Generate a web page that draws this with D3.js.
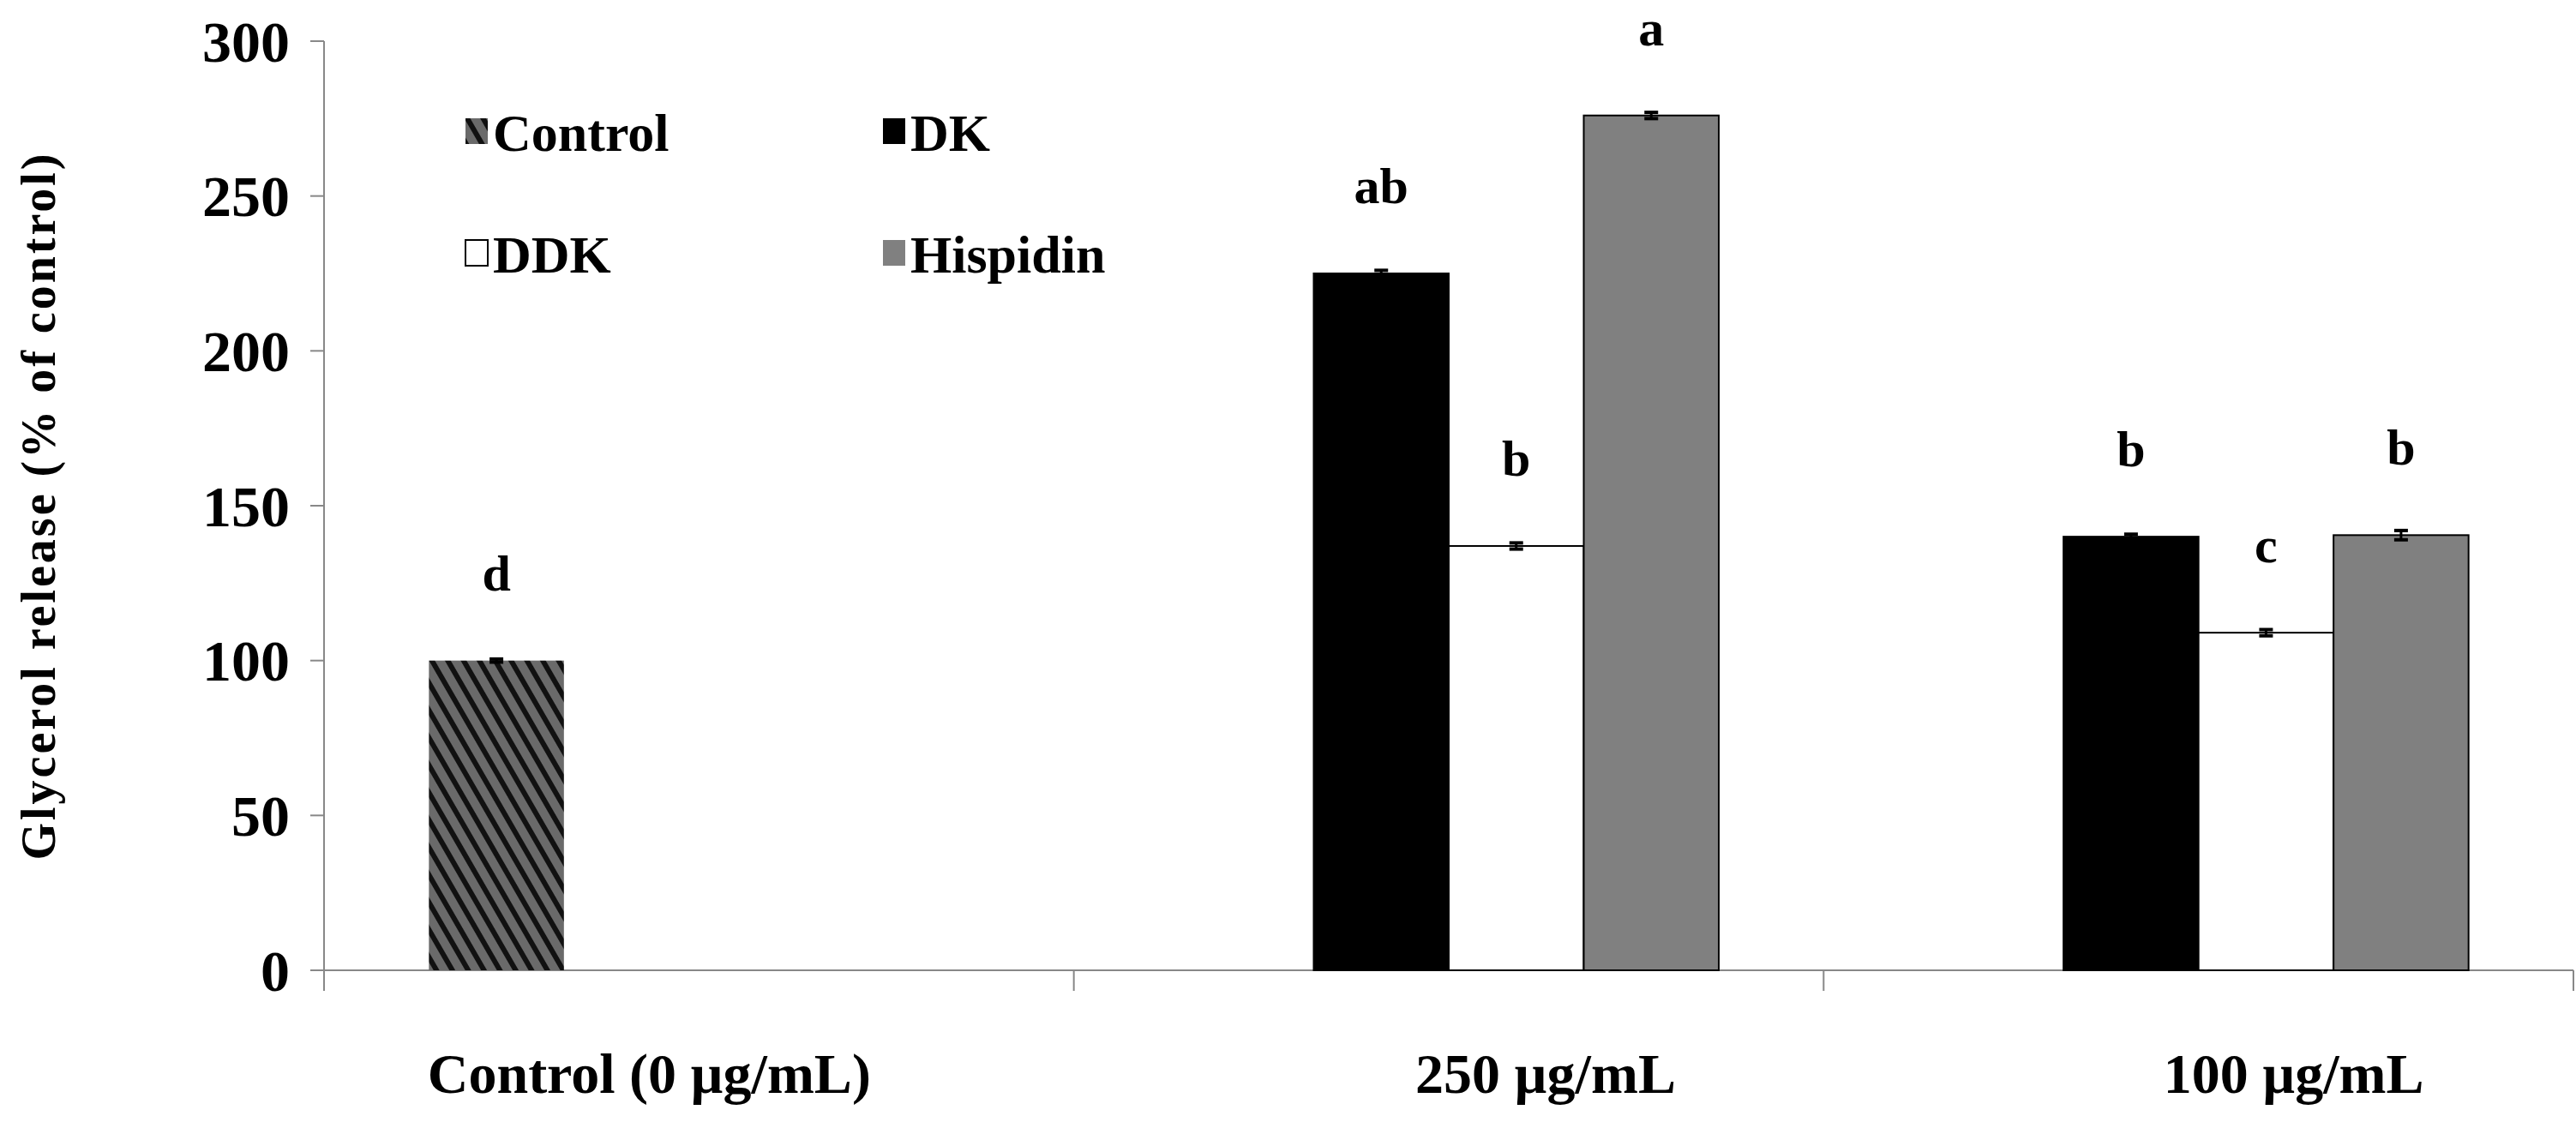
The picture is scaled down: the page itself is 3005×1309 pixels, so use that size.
<!DOCTYPE html>
<html><head><meta charset="utf-8">
<script src="https://cdn.jsdelivr.net/npm/d3@7"></script>
<style>body{margin:0;background:#fff}text{font-family:"Liberation Serif","Times New Roman",serif;font-weight:bold}</style>
</head><body><div id="chart"></div>
<script>
const categories = ["Control (0 \u00b5g/mL)", "250 \u00b5g/mL", "100 \u00b5g/mL"]
const seriesNames = ["Control", "DK", "DDK", "Hispidin"]
const control = [100, null, null]
const dk = [null, 225, 140]
const ddk = [null, 137, 109]
const hispidin = [null, 276, 140.5]
const errs = [[0.5, null, null], [null, 1, 0.8], [null, 1, 1], [null, 1, 1.5]]
const letters = [["d", null, null], [null, "ab", "b"], [null, "b", "c"], [null, "a", "b"]]
const yTicks = [0, 50, 100, 150, 200, 250, 300]

const values = [control, dk, ddk, hispidin]
const fills = ["url(#hatch)", "#000", "#fff", "#808080"]
const labelShift = [-58, 113, 111]

const W = 3005, H = 1309
const m = {left: 378, top: 48, right: 3, bottom: 177}
const groupW = 630
const svg = d3.select("#chart").append("svg").attr("width", W).attr("height", H)

const pat = svg.append("defs").append("pattern").attr("id", "hatch")
  .attr("patternUnits", "userSpaceOnUse").attr("width", 16).attr("height", 16)
  .attr("patternTransform", "rotate(-30)")
pat.append("rect").attr("width", 16).attr("height", 16).attr("fill", "#6a6a6a")
pat.append("rect").attr("width", 6).attr("height", 16).attr("fill", "#111")

const x = d3.scaleBand().domain(categories).range([m.left, W - m.right])
const xs = d3.scaleBand().domain(seriesNames).range([0, groupW]).paddingInner(0)
const y = d3.scaleLinear().domain([0, 300]).range([H - m.bottom, m.top])

// axes
svg.append("line").attr("x1", m.left).attr("x2", m.left).attr("y1", y(300)).attr("y2", y(0)).attr("stroke", "#888").attr("stroke-width", 2)
svg.append("line").attr("x1", m.left).attr("x2", W - m.right).attr("y1", y(0)).attr("y2", y(0)).attr("stroke", "#888").attr("stroke-width", 2)
yTicks.forEach(t => {
  svg.append("line").attr("x1", m.left - 16).attr("x2", m.left).attr("y1", y(t)).attr("y2", y(t)).attr("stroke", "#888").attr("stroke-width", 2)
  svg.append("text").attr("x", m.left - 40).attr("y", y(t)).attr("dy", "0.35em").attr("text-anchor", "end")
    .style("font-size", "68px").text(t)
})
const edges = categories.map(c => x(c)).concat([W - m.right])
edges.forEach(e => svg.append("line").attr("x1", e).attr("x2", e).attr("y1", y(0)).attr("y2", y(0) + 24).attr("stroke", "#888").attr("stroke-width", 2))
categories.forEach((c, i) => {
  svg.append("text").attr("x", x(c) + x.bandwidth() / 2 + labelShift[i]).attr("y", 1275)
    .attr("text-anchor", "middle").style("font-size", "66px").text(c)
})
svg.append("text").attr("transform", `translate(64,${(y(0) + y(300)) / 2}) rotate(-90)`)
  .attr("text-anchor", "middle").style("font-size", "56px").style("letter-spacing", "3px")
  .style("font-weight", "900").text("Glycerol release (% of control)")

// bars
seriesNames.forEach((s, si) => {
  categories.forEach((c, ci) => {
    const v = values[si][ci]
    if (v == null) return
    const bx = x(c) + x.bandwidth() / 2 - groupW / 2 + xs(s)
    svg.append("rect").attr("x", bx).attr("y", y(v)).attr("width", xs.bandwidth()).attr("height", y(0) - y(v))
      .attr("fill", fills[si]).attr("stroke", si === 0 ? "none" : "#000").attr("stroke-width", 2)
    const e = errs[si][ci]
    const cx = bx + xs.bandwidth() / 2
    svg.append("line").attr("x1", cx).attr("x2", cx).attr("y1", y(v + e)).attr("y2", y(v - e)).attr("stroke", "#000").attr("stroke-width", 3)
    ;[v + e, v - e].forEach(t => svg.append("line").attr("x1", cx - 8).attr("x2", cx + 8).attr("y1", y(t)).attr("y2", y(t)).attr("stroke", "#000").attr("stroke-width", 4))
    svg.append("text").attr("x", cx).attr("y", y(v) - 82).attr("text-anchor", "middle").style("font-size", "60px").text(letters[si][ci])
  })
})

// legend
const legPos = [[543, 154], [1030, 154], [543, 296], [1030, 296]]
seriesNames.forEach((s, i) => {
  const [lx, ly] = legPos[i]
  svg.append("rect").attr("x", lx).attr("y", ly - 16).attr("width", 26).attr("height", 30)
    .attr("fill", fills[i]).attr("stroke", i === 2 ? "#000" : "none").attr("stroke-width", 2)
  svg.append("text").attr("x", lx + 32).attr("y", ly).attr("dy", "0.35em").style("font-size", "62px").text(s)
})
</script></body></html>
